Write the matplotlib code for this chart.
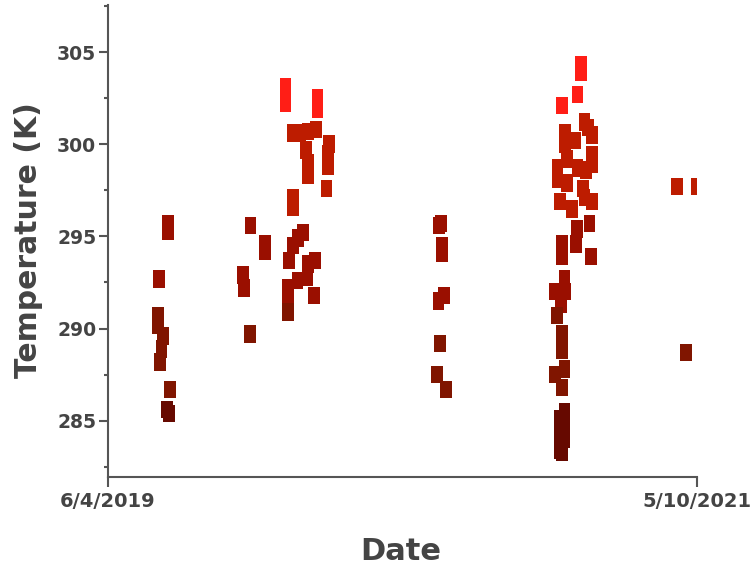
import matplotlib

matplotlib.use("Agg")

import matplotlib.dates as mdates  # noqa: E402
import matplotlib.pyplot as plt  # noqa: E402
import pandas as pd  # noqa: E402
from matplotlib import font_manager  # noqa: E402
from matplotlib.colors import BoundaryNorm, ListedColormap  # noqa: E402
from matplotlib.ticker import FixedLocator  # noqa: E402

# Surface temperature samples, one entry per observation.
dates = [
    # Aug 2019
    "2019-08-15", "2019-08-15", "2019-08-04", "2019-08-03", "2019-08-03",
    "2019-08-09", "2019-08-07", "2019-08-05", "2019-08-17", "2019-08-14",
    "2019-08-16",
    # Nov/Dec 2019
    "2019-11-22", "2019-12-09", "2019-12-09", "2019-11-13", "2019-11-14",
    "2019-11-21",
    # Jan/Feb 2020
    "2020-01-03", "2020-01-03", "2020-02-10", "2020-02-10", "2020-01-11",
    "2020-01-20", "2020-01-30", "2020-02-08", "2020-01-27", "2020-01-30",
    "2020-01-30", "2020-02-24", "2020-02-23", "2020-02-23", "2020-02-21",
    "2020-01-12", "2020-01-12", "2020-01-24", "2020-01-18", "2020-01-12",
    "2020-01-07", "2020-01-30", "2020-02-07", "2020-01-17", "2020-01-29",
    "2020-01-06", "2020-01-06", "2020-02-06", "2020-01-06",
    # Jul 2020
    "2020-07-05", "2020-07-07", "2020-07-08", "2020-07-08", "2020-07-11",
    "2020-07-04", "2020-07-06", "2020-07-02", "2020-07-13",
    # Nov 2020 - Jan 2021
    "2020-12-22", "2020-12-22", "2020-12-18", "2020-11-29", "2020-12-26",
    "2020-12-30", "2021-01-04", "2020-12-03", "2020-12-03", "2020-12-15",
    "2020-12-05", "2021-01-04", "2021-01-04", "2020-12-18", "2020-11-24",
    "2020-11-24", "2020-12-28", "2020-12-05", "2020-12-24", "2020-11-27",
    "2020-12-26", "2021-01-04", "2020-12-11", "2021-01-01", "2020-12-17",
    "2020-12-16", "2020-11-29", "2021-01-03", "2020-11-29", "2020-12-02",
    "2020-11-21", "2020-12-03", "2020-11-28", "2020-11-23", "2020-11-29",
    "2020-11-29", "2020-12-02", "2020-11-21", "2020-11-29", "2020-12-02",
    "2020-12-02", "2020-12-02", "2020-11-26", "2020-11-26", "2020-11-27",
    "2020-11-29",
    # Apr/May 2021
    "2021-04-16", "2021-05-10", "2021-04-27",
]
temps = [
    295.7, 295.3, 292.7, 290.7, 290.2,
    289.6, 288.9, 288.2, 286.7, 285.6,
    285.4,
    295.6, 294.6, 294.2, 292.9, 292.2,
    289.7,
    303.1, 302.2, 302.5, 301.9, 300.6,
    300.6, 300.7, 300.8, 299.7, 299.0,
    298.3, 300.0, 299.5, 298.8, 297.6,
    297.1, 296.6, 295.2, 294.9, 294.5,
    293.7, 293.5, 293.7, 292.6, 292.8,
    292.2, 291.8, 291.8, 290.9,
    295.6, 295.7, 294.5, 294.1, 291.8,
    291.5, 289.2, 287.5, 286.7,
    304.3, 303.9, 302.7, 302.1, 301.2,
    300.9, 300.5, 300.6, 300.0, 300.2,
    299.2, 299.4, 298.9, 298.7, 298.7,
    298.1, 298.6, 297.9, 297.6, 296.9,
    297.1, 296.9, 296.5, 295.7, 295.4,
    294.6, 294.6, 293.9, 293.9, 292.7,
    292.0, 292.0, 291.3, 290.7, 289.7,
    288.8, 287.8, 287.5, 286.8, 285.5,
    284.6, 284.0, 285.1, 284.2, 283.4,
    283.3,
    297.7, 297.7, 288.7,
]

# Temperature bands and the colour used for each band.
temp_bins = [282.0, 286.0, 291.0, 296.0, 301.6, 308.0]
band_colors = ["#660900", "#801500", "#9a0f00", "#bd1c00", "#ff1e16"]

x_range = ["2019-06-04", "2021-05-10"]
x_tick_labels = ["6/4/2019", "5/10/2021"]
y_range = (281.95, 307.55)
y_major = [285, 290, 295, 300, 305]
y_minor = [282.5, 287.5, 292.5, 297.5, 302.5, 307.5]

TEXT = "#444444"
AXIS = "#555555"


def _pick_family(*names):
    available = {f.name for f in font_manager.fontManager.ttflist}
    for name in names:
        if name in available:
            return name
    return "DejaVu Sans"


narrow = _pick_family("DejaVu Sans Condensed", "Liberation Sans Narrow")

x = mdates.date2num(pd.to_datetime(dates))
cmap = ListedColormap(band_colors)
norm = BoundaryNorm(temp_bins, cmap.N)

# tall rectangle marker, roughly 11 x 17 px
box = [(-0.33, -0.5), (0.33, -0.5), (0.33, 0.5), (-0.33, 0.5), (-0.33, -0.5)]

fig = plt.figure(figsize=(7.54, 5.69), dpi=100)
ax = fig.add_axes([108 / 754, 1 - 477 / 569, 589 / 754, 472 / 569])

ax.scatter(x, temps, c=temps, cmap=cmap, norm=norm, marker=box, s=160, linewidths=0)

ax.set_xlim(mdates.date2num(pd.to_datetime(x_range)))
ax.set_ylim(*y_range)
ax.set_xticks(mdates.date2num(pd.to_datetime(x_range)))
ax.set_xticklabels(x_tick_labels)
ax.yaxis.set_major_locator(FixedLocator(y_major))
ax.yaxis.set_minor_locator(FixedLocator(y_minor))

for side in ("top", "right"):
    ax.spines[side].set_visible(False)
for side in ("left", "bottom"):
    ax.spines[side].set_color(AXIS)
    ax.spines[side].set_linewidth(1.5)

ax.tick_params(axis="y", which="major", length=6.5, width=1.5, color=AXIS, pad=2,
               labelsize=13.5, labelcolor=TEXT)
ax.tick_params(axis="y", which="minor", length=3.2, width=1.5, color=AXIS)
ax.tick_params(axis="x", which="major", length=7, width=1.5, color=AXIS, pad=4,
               labelsize=14, labelcolor=TEXT)
for label in ax.get_xticklabels() + ax.get_yticklabels():
    label.set_fontweight("bold")

fig.text(37 / 754, 1 - 240 / 569, "Temperature (K)", rotation=90, rotation_mode="anchor",
         ha="center", va="baseline", fontsize=21.5, fontweight="bold", color=TEXT)
fig.text(401 / 754, 1 - 560 / 569, "Date", ha="center", va="baseline",
         fontsize=22, fontweight="bold", color=TEXT, family=narrow)

fig.savefig("out.png", dpi=100)
